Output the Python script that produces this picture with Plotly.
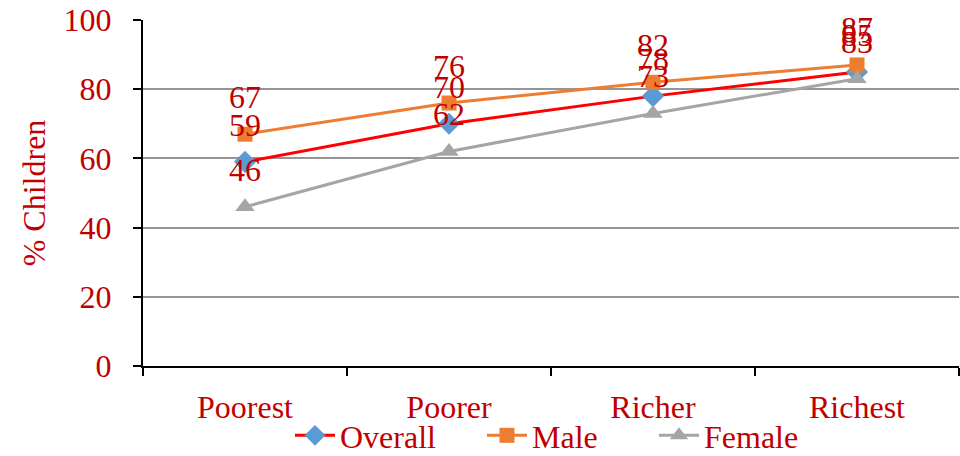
import plotly.graph_objects as go

# Wealth quintiles and share of children per group
categories = ["Poorest", "Poorer", "Richer", "Richest"]
overall = [59, 70, 78, 85]
male = [67, 76, 82, 87]
female = [46, 62, 73, 83]

TEXT_RED = "#C00000"
FONT = "Liberation Serif"
FS = 32

series = [
    ("Overall", overall, "#FF0000", "#5B9BD5", "diamond", 17),
    ("Male", male, "#ED7D31", "#ED7D31", "square", 15),
    ("Female", female, "#A5A5A5", "#A5A5A5", "triangle-up", 17),
]
# one legend box per series, laid out along the bottom
legend_ids = ["legend", "legend2", "legend3"]
legend_x = [290, 482, 654]

fig = go.Figure()
for (name, vals, line_col, mk_col, symbol, size), lid in zip(series, legend_ids):
    fig.add_trace(go.Scatter(
        x=categories, y=vals, name=name, mode="lines+markers",
        line=dict(color=line_col, width=3),
        marker=dict(symbol=symbol, size=size, color=mk_col, line=dict(width=0)),
        legend=lid,
    ))

# value labels sitting above each point
for name, vals, *_ in series:
    for c, v in zip(categories, vals):
        fig.add_annotation(x=c, y=v, text=str(v), showarrow=False, yshift=37,
                           font=dict(family=FONT, size=FS, color=TEXT_RED))

legend_style = dict(orientation="h", xref="container", yref="container",
                    xanchor="left", yanchor="top", y=1 - 408 / 456,
                    font=dict(family=FONT, size=FS, color=TEXT_RED),
                    itemwidth=40, bgcolor="rgba(0,0,0,0)")
layout_legends = {lid: dict(x=px / 960, **legend_style) for lid, px in zip(legend_ids, legend_x)}

fig.update_layout(
    width=960, height=456,
    margin=dict(l=143, r=1, t=20, b=90),
    paper_bgcolor="white", plot_bgcolor="white",
    font=dict(family=FONT, size=FS, color=TEXT_RED),
    showlegend=True,
    **layout_legends,
)
fig.update_xaxes(
    type="category", range=[-0.5, 3.5], tickson="boundaries", automargin=False,
    showline=True, linecolor="black", linewidth=2,
    ticks="outside", ticklen=8, tickcolor="black", tickwidth=2,
    showgrid=False, ticklabelstandoff=12,
    tickfont=dict(family=FONT, size=FS, color=TEXT_RED),
)
fig.update_yaxes(
    range=[0, 100], dtick=20, automargin=False,
    showline=True, linecolor="black", linewidth=2,
    ticks="outside", ticklen=8, tickcolor="black", tickwidth=2,
    showgrid=True, gridcolor="#959595", gridwidth=2, zeroline=False,
    ticklabelstandoff=15,
    tickfont=dict(family=FONT, size=FS, color=TEXT_RED),
    title=dict(text="% Children", font=dict(family=FONT, size=FS, color=TEXT_RED), standoff=8),
)

fig.write_html("out.html")
